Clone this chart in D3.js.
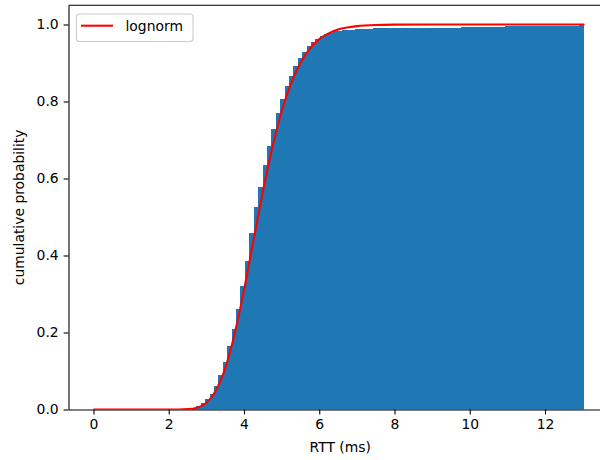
<!DOCTYPE html>
<html>
<head>
<meta charset="utf-8">
<script src="https://cdn.jsdelivr.net/npm/d3@7"></script>
<style>
  html, body { margin: 0; padding: 0; background: #fff; }
  svg { display: block; font-family: "DejaVu Sans", sans-serif; }
</style>
</head>
<body>
<svg id="chart" width="600" height="460"></svg>
<script>
// ---- data ----
const binStart = 2.62;      // left edge of first histogram bin (ms)
const binWidth = 0.117;     // histogram bin width (ms)
const cumHeights = [
  0.004, 0.009, 0.016, 0.026, 0.041, 0.062, 0.090, 0.124, 0.165, 0.208,
  0.262, 0.322, 0.385, 0.458, 0.527, 0.577, 0.635, 0.684, 0.728, 0.770,
  0.806, 0.839, 0.867, 0.892, 0.912, 0.929, 0.943, 0.954, 0.963, 0.970,
  0.975, 0.979, 0.982, 0.984, 0.985, 0.986, 0.987, 0.988, 0.988, 0.989,
  0.989, 0.990, 0.990, 0.990, 0.991, 0.991, 0.991, 0.991, 0.992, 0.992,
  0.992, 0.992, 0.992, 0.992, 0.992, 0.992, 0.992, 0.992, 0.992, 0.992,
  0.992, 0.993, 0.993, 0.993, 0.993, 0.993, 0.994, 0.994, 0.994, 0.994,
  0.994, 0.995, 0.995, 0.995, 0.995, 0.995, 0.995, 0.995, 0.995, 0.995,
  0.995, 0.996, 0.996, 0.996, 0.996, 0.996, 0.996, 0.996, 1.000
];
const lognormX = [0, 1, 2, 2.25, 2.5, 2.75, 3.0, 3.25, 3.5, 3.75, 4.0, 4.25, 4.5, 4.75,
  5.0, 5.25, 5.5, 5.75, 6.0, 6.25, 6.5, 6.75, 7.0, 7.5, 8.0, 9.0, 10.0, 13.05];
const lognormY = [0, 0, 0, 0.0001, 0.0009, 0.0048, 0.0177, 0.049, 0.107, 0.196, 0.310, 0.438, 0.565, 0.679,
  0.774, 0.847, 0.900, 0.937, 0.962, 0.977, 0.987, 0.9924, 0.9957, 0.9987, 0.9996, 1.0, 1.0, 1.0];
const xTicks = [0, 2, 4, 6, 8, 10, 12];
const yTicks = [0.0, 0.2, 0.4, 0.6, 0.8, 1.0];
const xLabel = "RTT (ms)";
const yLabel = "cumulative probability";
const legendLabel = "lognorm";

// ---- layout ----
const svg = d3.select("#chart");
const L = 68.5, R = 618, T = 5.25, B = 409.5;
const fontSize = 13.9;

const x = d3.scaleLinear().domain([-0.664, 13.94]).range([L, R]);
const y = d3.scaleLinear().domain([0, 1.05]).range([B, T]);

svg.append("rect").attr("width", 600).attr("height", 460).attr("fill", "#fff");

svg.append("defs").append("clipPath").attr("id", "clip")
  .append("rect").attr("x", L).attr("y", T).attr("width", R - L).attr("height", B - T);

const plot = svg.append("g").attr("clip-path", "url(#clip)");

// histogram bars
const bins = cumHeights.map((h, i) => ({x0: binStart + i * binWidth, x1: binStart + (i + 1) * binWidth, h}));
plot.selectAll("rect.bar").data(bins).enter().append("rect")
  .attr("class", "bar")
  .attr("x", d => x(d.x0))
  .attr("width", d => x(d.x1) - x(d.x0))
  .attr("y", d => y(d.h))
  .attr("height", d => y(0) - y(d.h))
  .attr("fill", "#1f77b4")
  .attr("shape-rendering", "crispEdges");

// lognorm line
const pts = lognormX.map((v, i) => [v, lognormY[i]]);
plot.append("path")
  .datum(pts)
  .attr("fill", "none")
  .attr("stroke", "#ff0000")
  .attr("stroke-width", 2.08)
  .attr("stroke-linejoin", "round")
  .attr("stroke-linecap", "butt")
  .attr("d", d3.line().x(d => x(d[0])).y(d => y(d[1])).curve(d3.curveMonotoneX));

// axes
const xAxis = d3.axisBottom(x).tickValues(xTicks).tickFormat(d3.format("d"))
  .tickSize(4.9).tickPadding(4.9).tickSizeOuter(0);
const yAxis = d3.axisLeft(y).tickValues(yTicks).tickFormat(d3.format(".1f"))
  .tickSize(4.9).tickPadding(4.9).tickSizeOuter(0);

const gx = svg.append("g").attr("transform", `translate(0,${B})`).call(xAxis);
const gy = svg.append("g").attr("transform", `translate(${L},0)`).call(yAxis);
[gx, gy].forEach(g => {
  g.selectAll("path.domain").attr("stroke", "#000").attr("stroke-width", 1.1);
  g.selectAll(".tick line").attr("stroke", "#000").attr("stroke-width", 1.1);
  g.selectAll(".tick text").attr("fill", "#000").attr("font-size", fontSize)
    .attr("font-family", "DejaVu Sans, sans-serif");
});

// top spine
svg.append("line").attr("x1", L).attr("x2", R).attr("y1", T).attr("y2", T)
  .attr("stroke", "#000").attr("stroke-width", 1.1);

// axis labels
svg.append("text").attr("x", (L + R) / 2 - 3).attr("y", 452)
  .attr("text-anchor", "middle").attr("font-size", fontSize).attr("fill", "#000").text(xLabel);
svg.append("text")
  .attr("transform", `translate(24,${(T + B) / 2}) rotate(-90)`)
  .attr("text-anchor", "middle").attr("font-size", fontSize).attr("fill", "#000").text(yLabel);

// legend
const lg = svg.append("g");
lg.append("rect").attr("x", 76.5).attr("y", 14).attr("width", 116.5).attr("height", 27.5)
  .attr("rx", 3).attr("fill", "#fff").attr("fill-opacity", 0.8)
  .attr("stroke", "#cccccc").attr("stroke-width", 1.1);
lg.append("line").attr("x1", 81).attr("x2", 113).attr("y1", 25.7).attr("y2", 25.7)
  .attr("stroke", "#ff0000").attr("stroke-width", 2.08);
lg.append("text").attr("x", 125.5).attr("y", 30.6).attr("font-size", fontSize)
  .attr("fill", "#000").text(legendLabel);
</script>
</body>
</html>
